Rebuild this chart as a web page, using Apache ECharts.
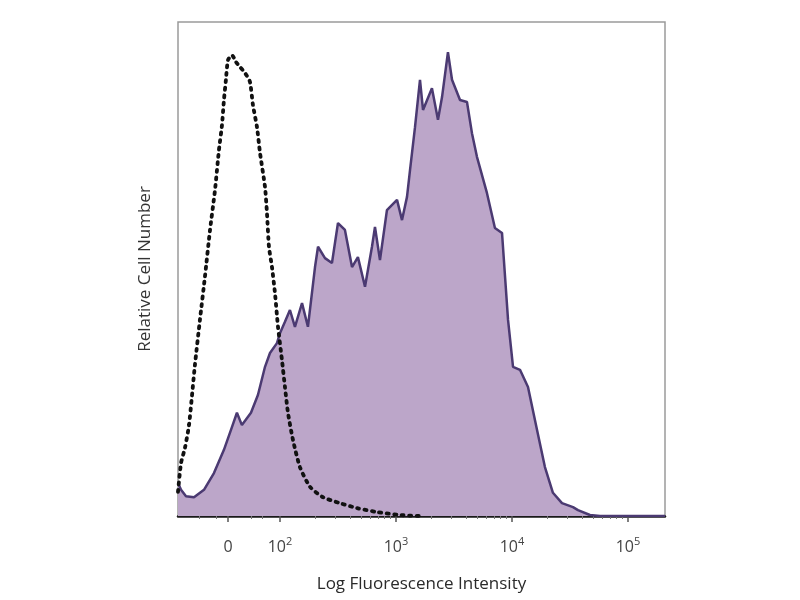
<!DOCTYPE html>
<html>
<head>
<meta charset="utf-8">
<script src="https://cdn.jsdelivr.net/npm/echarts@6/dist/echarts.min.js"></script>
<style>
  html, body { margin: 0; padding: 0; background: #fff; }
  #chart { width: 800px; height: 600px; }
</style>
</head>
<body>
<div id="chart"></div>
<script>
// x in display units of the log axis: 2 = 10^2, 3 = 10^3 ...
var stainedX = [1.121, 1.147, 1.190, 1.259, 1.345, 1.431, 1.517, 1.586, 1.629, 1.672,
    1.750, 1.810, 1.871, 1.914, 1.974, 2.000, 2.043, 2.086, 2.129, 2.190,
    2.241, 2.302, 2.328, 2.388, 2.448, 2.500, 2.560, 2.621, 2.672, 2.733,
    2.793, 2.819, 2.862, 2.922, 3.009, 3.052, 3.095, 3.121, 3.164, 3.207,
    3.233, 3.310, 3.362, 3.397, 3.448, 3.483, 3.552, 3.612, 3.655, 3.698,
    3.784, 3.853, 3.914, 3.966, 4.009, 4.069, 4.138, 4.216, 4.284, 4.353,
    4.431, 4.526, 4.569, 4.672, 4.759, 5.319];
var stainedY = [6.7, 5.3, 4.0, 3.8, 5.3, 8.7, 13.4, 18.0, 20.9, 18.4,
    20.9, 24.5, 30.2, 33.0, 35.0, 37.0, 39.3, 41.7, 38.3, 43.1,
    38.3, 50.4, 54.5, 52.2, 51.2, 59.3, 57.9, 50.4, 52.4, 46.4,
    54.5, 58.5, 51.8, 61.9, 64.0, 59.9, 64.6, 70.0, 78.7, 88.3,
    82.2, 86.6, 80.2, 84.8, 93.9, 88.3, 84.2, 83.8, 77.5, 72.7,
    65.4, 58.3, 57.3, 39.7, 30.2, 29.6, 26.1, 17.4, 9.9, 4.7,
    2.6, 1.8, 1.2, 0.2, 0, 0];

var isotypeX = [1.121, 1.147, 1.181, 1.216, 1.267, 1.310, 1.353, 1.397, 1.440, 1.474,
    1.500, 1.517, 1.534, 1.552, 1.586, 1.621, 1.655, 1.698, 1.741, 1.767,
    1.802, 1.828, 1.871, 1.888, 1.905, 1.931, 1.957, 1.983, 2.017, 2.043,
    2.069, 2.112, 2.172, 2.259, 2.371, 2.517, 2.664, 2.836, 3.034, 3.207];
var isotypeY = [4.9, 10.7, 13.8, 18.4, 30.6, 39.7, 48.4, 57.9, 66.0, 74.1,
    79.1, 84.2, 88.3, 92.3, 93.3, 91.9, 90.9, 89.7, 87.9, 83.2,
    78.7, 73.5, 66.6, 61.3, 54.5, 50.4, 45.1, 38.3, 31.6, 26.1,
    20.9, 15.4, 9.9, 5.9, 3.8, 2.6, 1.6, 0.8, 0.2, 0];

// tick positions and their labels
var majorTicks = [1.552, 2, 3, 4, 5];
var majorLabels = ['0', '10|2', '10|3', '10|4', '10|5'];
var minorTicks = [1.30, 1.45, 1.75, 1.85,
    2.301, 2.477, 2.602, 2.699, 2.778, 2.845, 2.903, 2.954,
    3.301, 3.477, 3.602, 3.699, 3.778, 3.845, 3.903, 3.954,
    4.301, 4.477, 4.602, 4.699, 4.778, 4.845, 4.903, 4.954];

function pairs(xs, ys) {
    var out = [];
    for (var i = 0; i < xs.length; i++) {
        out.push([xs[i], ys[i]]);
    }
    return out;
}

var myChart = echarts.init(document.getElementById('chart'));

var option = {
    backgroundColor: '#fff',
    animation: false,
    grid: {
        show: true,
        left: 178,
        right: 135,
        top: 22,
        bottom: 84,
        borderColor: '#9a9a9a',
        borderWidth: 1.5,
        backgroundColor: 'transparent'
    },
    xAxis: [{
        type: 'value',
        min: 1.121,
        max: 5.319,
        name: 'Log Fluorescence Intensity',
        nameLocation: 'middle',
        nameGap: 60,
        nameTextStyle: {
            fontFamily: 'Open Sans',
            fontSize: 17,
            color: '#2a2a2a'
        },
        splitLine: { show: false },
        axisLine: { show: true, onZero: false, lineStyle: { color: '#1a1a1a', width: 2.5 } },
        axisTick: {
            show: true,
            inside: false,
            length: 6,
            customValues: majorTicks,
            lineStyle: { color: '#555', width: 1.5 }
        },
        axisLabel: {
            show: true,
            customValues: majorTicks,
            margin: 20,
            formatter: function (val) {
                var idx = 0;
                for (var i = 0; i < majorTicks.length; i++) {
                    if (Math.abs(majorTicks[i] - val) < 1e-6) idx = i;
                }
                var parts = majorLabels[idx].split('|');
                if (parts.length === 1) return '{b|' + parts[0] + '}';
                return '{b|' + parts[0] + '}{s|' + parts[1] + '}';
            },
            rich: {
                b: { fontFamily: 'Open Sans', fontSize: 16, color: '#444', lineHeight: 22 },
                s: { fontFamily: 'Open Sans', fontSize: 11, color: '#444', lineHeight: 22, verticalAlign: 'top', padding: [0, 0, 10, 0] }
            }
        }
    }, {
        type: 'value',
        min: 1.121,
        max: 5.319,
        position: 'bottom',
        splitLine: { show: false },
        axisLine: { show: false },
        axisLabel: { show: false },
        axisTick: {
            show: true,
            length: 3,
            customValues: minorTicks,
            lineStyle: { color: '#777', width: 1 }
        }
    }],
    yAxis: {
        type: 'value',
        min: 0,
        max: 100,
        name: 'Relative Cell Number',
        nameLocation: 'middle',
        nameGap: 24,
        nameTextStyle: {
            fontFamily: 'Open Sans',
            fontSize: 17,
            color: '#333'
        },
        splitLine: { show: false },
        axisLine: { show: false },
        axisTick: { show: false },
        axisLabel: { show: false }
    },
    series: [{
        name: 'stained',
        type: 'line',
        xAxisIndex: 0,
        data: pairs(stainedX, stainedY),
        showSymbol: false,
        smooth: false,
        z: 2,
        lineStyle: { color: '#4b3a72', width: 2.5 },
        areaStyle: { color: '#bca6c9', opacity: 1 }
    }, {
        name: 'isotype',
        type: 'line',
        xAxisIndex: 0,
        data: pairs(isotypeX, isotypeY),
        showSymbol: false,
        smooth: 0.2,
        z: 3,
        lineStyle: { color: '#111', width: 3.8, type: [2, 5.5], cap: 'round' }
    }]
};

myChart.setOption(option);
</script>
</body>
</html>
